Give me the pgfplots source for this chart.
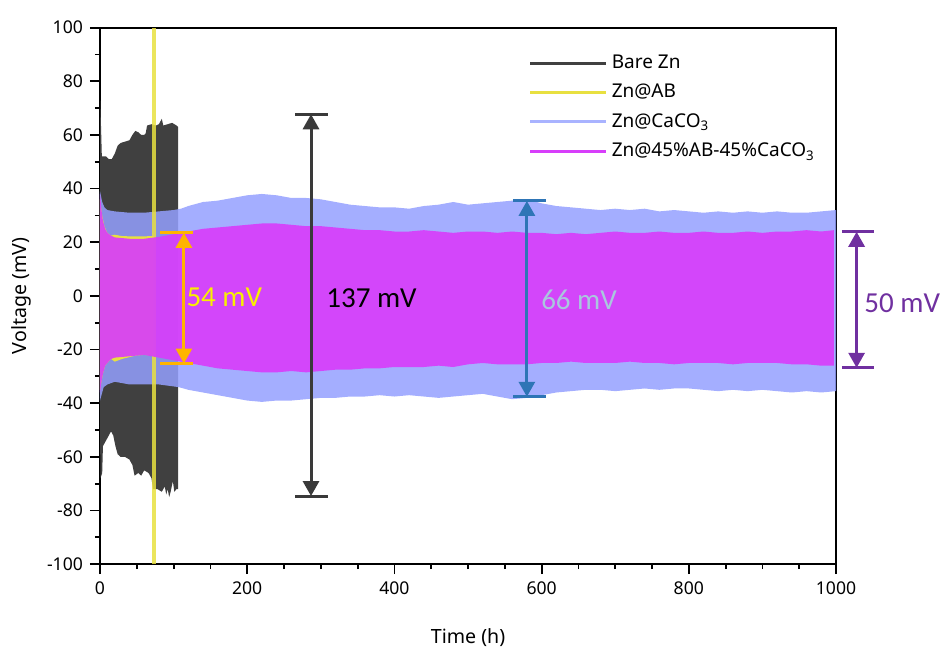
\documentclass[border=0pt]{standalone}
\usepackage{pgfplots}
\pgfplotsset{compat=1.18}
\usetikzlibrary{arrows.meta}
\usepackage{fontspec}
\setmainfont{Noto Sans}
\newfontfamily\annfont{Carlito}
\definecolor{BareZn}{HTML}{404040}
\definecolor{ZnAB}{HTML}{E8E040}
\definecolor{ZnCa}{HTML}{94A0FF}
\definecolor{ZnMix}{HTML}{D73EFA}
\definecolor{ArrOrange}{HTML}{FFB400}
\definecolor{ArrBlue}{HTML}{2E75B6}
\definecolor{ArrPurple}{HTML}{7030A0}
\definecolor{ArrGray}{HTML}{3A3A3A}
\definecolor{TxtBlue}{HTML}{AAC6DE}
\definecolor{TxtYellow}{HTML}{F8F000}

\begin{document}
\begin{tikzpicture}
\useasboundingbox (-50pt,-42.3pt) rectangle (423.5pt,282.1pt);
\begin{axis}[
  scale only axis,
  width=368pt, height=268.3pt,
  xmin=0, xmax=1000, ymin=-100, ymax=100,
  xtick={0,200,...,1000}, ytick={-100,-80,...,100},
  minor x tick num=3, minor y tick num=1,
  tick pos=left, tick align=outside,
  major tick length=5pt, minor tick length=2.5pt,
  axis line style={line width=1pt},
  every tick/.style={black, line width=0.9pt},
  /pgf/number format/assume math mode=true,
  /pgf/number format/1000 sep={},
  ticklabel style={font=\fontsize{8.8}{10}\selectfont},
  xlabel={Time (h)}, ylabel={Voltage (mV)},
  label style={font=\fontsize{9.8}{11}\selectfont},
  xlabel style={at={(axis description cs:0.5,0)}, anchor=center, yshift=-36.5pt},
  ylabel style={at={(axis description cs:0,0.5)}, anchor=center, rotate=0, yshift=39.5pt},
  clip=false,
  legend image code/.code={\draw[#1] (0pt,0pt) -- (38pt,0pt);},
  legend style={at={(rel axis cs:0.582,0.957)}, anchor=north west, draw=none, fill=none,
    font=\fontsize{9.5}{11}\selectfont, row sep=2.3pt, inner sep=0pt},
  legend cell align=left,
]
% Bare Zn envelope
\addplot[fill=BareZn, draw=none, forget plot] coordinates {
 (0,40) (0.3,73) (1.5,62) (2.5,52) (8,52) (12,51) (16,51) (20,53) (24,56) (28,57)
 (34,57.5) (40,58) (44,60) (48,61.5) (52,61) (56,60) (60,60) (62,60.5) (64,63.5)
 (70,64) (76,63.5) (80,64) (84,66) (86,63.5) (92,64) (98,64.5) (104,63.5) (106,63)
 (106,-72) (104,-72) (101,-73) (99,-69) (96,-73) (94,-75) (92,-72) (90,-74) (88,-71)
 (84,-73) (78,-72) (72,-72) (70,-68) (66,-66) (60,-65) (56,-67) (52,-66) (47,-67)
 (44,-63) (40,-61) (34,-60) (28,-60) (24,-59) (21,-56) (18,-52) (15,-50.5) (12,-52)
 (8,-54) (4,-56) (3,-66) (0.5,-68) (0,-40)
} -- cycle;
% Zn@CaCO3 envelope
\addplot[fill=ZnCa, fill opacity=0.85, draw=none, forget plot] coordinates {
 (0,39) (3,35) (6,33) (10,32) (20,31.5) (40,31) (60,31) (80,31.5) (100,32) (110,32.5)
 (120,33.5) (140,35) (160,35.5) (180,36.5) (200,37.5) (220,38) (240,37.5) (260,36.5)
 (280,36.5) (300,36) (320,35) (340,34) (360,33.5) (380,33) (400,33) (420,32.5)
 (440,33.5) (460,34) (480,35) (500,34) (520,34.5) (540,35) (560,35.5) (580,36)
 (600,34.5) (620,33.5) (640,33) (660,32.5) (680,32) (700,32.5) (720,32) (740,32.5)
 (760,31.5) (780,32) (800,31.5) (820,31) (840,31.5) (860,31) (880,31.5) (900,31)
 (920,31.5) (940,31) (960,31) (980,31.5) (1000,32)
 (1000,-35.5) (980,-36) (960,-35.5) (940,-36) (920,-35.5) (900,-35) (880,-35.5)
 (860,-35) (840,-35.5) (820,-35) (800,-34.5) (780,-34.5) (760,-35) (740,-34.5)
 (720,-35) (700,-35.5) (680,-35) (660,-35) (640,-35.5) (620,-36) (600,-37) (580,-38)
 (560,-38.5) (540,-37.5) (520,-36.5) (500,-37) (480,-37.5) (460,-38) (440,-37.5)
 (420,-37) (400,-37.5) (380,-37) (360,-37.5) (340,-37.5) (320,-38) (300,-38)
 (280,-38.5) (260,-39) (240,-39) (220,-39.5) (200,-39) (180,-38) (160,-37) (140,-36)
 (120,-35) (107,-34) (80,-33) (40,-33) (20,-32) (10,-33) (5,-34) (0,-39)
} -- cycle;
% Zn@AB envelope and failure spike
\addplot[fill=ZnAB, draw=none, forget plot] coordinates {
 (0,36) (3,30) (6,26) (10,23.5) (15,22.5) (20,22.8) (30,22.3) (40,22.2) (50,22.2)
 (60,22.2) (72,22.3) (73,22.3)
 (73,-22.3) (72,-22.3) (60,-22) (50,-22.2) (40,-22.8) (30,-23.5) (20,-24.5) (15,-23.5)
 (10,-25) (7,-26) (4,-29) (2,-32) (0,-35)
} -- cycle;
\addplot[ZnAB, opacity=0.85, line width=2pt, forget plot] coordinates {(73,-100) (73,100)};
% Zn@45%AB-45%CaCO3 envelope
\addplot[fill=ZnMix, fill opacity=0.92, draw=none, forget plot] coordinates {
 (0,38) (2,32) (4,28) (7,25) (10,23.5) (15,22.5) (20,21.8) (40,21.3) (60,21.3)
 (80,22) (100,23) (120,24) (140,25) (160,25.5) (180,26) (200,26.5) (220,27) (240,27)
 (260,26.5) (280,26) (300,26) (320,25.5) (340,25) (360,24.5) (380,24.5) (400,24)
 (420,24) (440,24.5) (460,24) (480,23.5) (500,24) (520,24) (540,23.5) (560,24)
 (580,23.5) (600,23.5) (620,23) (640,23.5) (660,23) (680,23.5) (700,24) (720,23.5)
 (740,23.5) (760,24) (780,23.5) (800,23.5) (820,24) (840,23.5) (860,23.5) (880,24)
 (900,23.5) (920,24) (940,24) (960,24.5) (980,24) (997,24.5)
 (997,-26) (980,-26) (960,-25.5) (940,-25.5) (920,-25) (900,-25) (880,-25)
 (860,-25.5) (840,-25) (820,-25) (800,-25) (780,-25.5) (760,-25) (740,-25)
 (720,-24.5) (700,-25) (680,-25) (660,-25) (640,-24.5) (620,-25) (600,-25)
 (580,-25.5) (560,-25.5) (540,-25.5) (520,-25) (500,-25.5) (480,-26.5) (460,-26)
 (440,-26.5) (420,-26.5) (400,-26.5) (380,-27) (360,-27) (340,-27.5) (320,-27.5)
 (300,-28) (280,-28.5) (260,-28) (240,-28.5) (220,-28.5) (200,-28) (180,-27.5)
 (160,-27) (140,-26) (120,-25) (100,-24) (80,-23) (60,-22) (40,-22.5) (20,-23)
 (15,-23.5) (10,-25) (7,-26) (4,-29) (2,-32) (0,-36)
} -- cycle;
\addlegendimage{line width=1.5pt, BareZn}
\addlegendentry{Bare Zn}
\addlegendimage{line width=1.5pt, ZnAB}
\addlegendentry{Zn@AB}
\addlegendimage{line width=1.5pt, ZnCa!80!white}
\addlegendentry{Zn@CaCO\textsubscript{3}}
\addlegendimage{line width=1.5pt, ZnMix}
\addlegendentry{Zn@45\%AB-45\%CaCO\textsubscript{3}}
% annotations
\tikzset{dim/.style={line width=1.5pt, {Triangle[width=8pt,length=7.5pt]}-{Triangle[width=8pt,length=7.5pt]}}}
\draw[ArrOrange, dim] (114,23.5) -- (114,-25.2);
\draw[ArrOrange, line width=1.5pt] (82,23.5) -- (126,23.5) (82,-25.2) -- (126,-25.2);
\node[anchor=west, text=TxtYellow, font=\annfont\fontsize{14.5}{16}\selectfont, inner sep=0pt] at (117,-0.7) {54 mV};
\draw[ArrGray, dim] (286.7,67.7) -- (286.7,-74.6);
\draw[ArrGray, line width=1.5pt] (265,67.7) -- (310,67.7) (265,-74.6) -- (310,-74.6);
\node[anchor=west, text=black, font=\annfont\fontsize{14.5}{16}\selectfont, inner sep=0pt] at (307,-0.7) {137 mV};
\draw[ArrBlue, dim] (580,35.4) -- (580,-37.6);
\draw[ArrBlue, line width=1.5pt] (561,35.4) -- (606,35.4) (561,-37.6) -- (606,-37.6);
\node[anchor=west, text=TxtBlue, font=\annfont\fontsize{14.5}{16}\selectfont, inner sep=0pt] at (599,-1.5) {66 mV};
\draw[ArrPurple, dim] (1028,23.9) -- (1028,-26.8);
\draw[ArrPurple, line width=1.5pt] (1008,23.9) -- (1052,23.9) (1008,-26.8) -- (1052,-26.8);
\node[anchor=west, text=ArrPurple, font=\annfont\fontsize{14.5}{16}\selectfont, inner sep=0pt] at (1038,-2.6) {50 mV};
\end{axis}
\end{tikzpicture}
\end{document}
